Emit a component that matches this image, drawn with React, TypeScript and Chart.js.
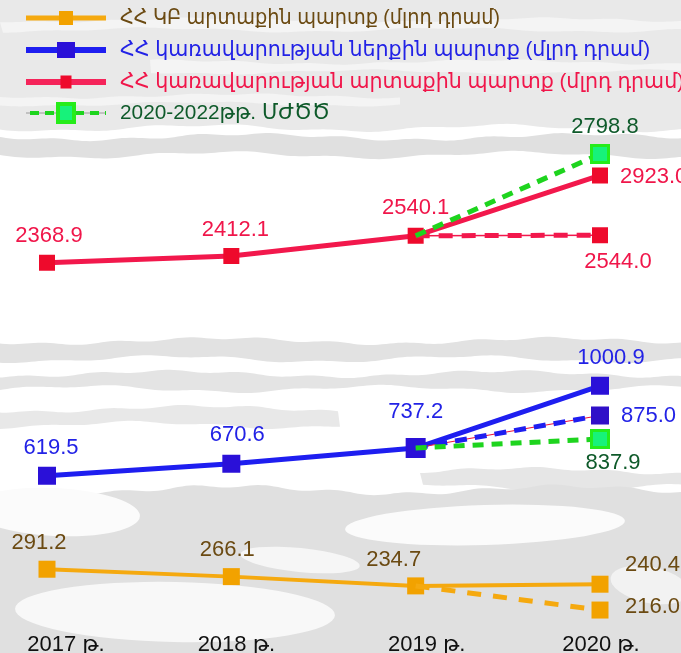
import React, { useEffect, useRef } from "react";
import { Chart, registerables } from "chart.js";
Chart.register(...registerables);

const years = ["2017 թ.", "2018 թ.", "2019 թ.", "2020 թ."];
const cbExternal = [291.2, 266.1, 234.7, 240.4];
const cbExternalPlan = [null, null, 234.7, 216.0];
const govDomestic = [619.5, 670.6, 737.2, 1000.9];
const govDomesticPlan = [null, null, 737.2, 875.0];
const govExternal = [2368.9, 2412.1, 2540.1, 2923.0];
const govExternalPlan = [null, null, 2540.1, 2544.0];
const mtefExternal = [null, null, 2540.1, 2798.8];
const mtefDomestic = [null, null, 737.2, 837.9];

const legendLabels = [
  "ՀՀ ԿԲ արտաքին պարտք (մլրդ դրամ)",
  "ՀՀ կառավարության ներքին պարտք (մլրդ դրամ)",
  "ՀՀ կառավարության արտաքին պարտք (մլրդ դրամ)",
  "2020-2022թթ. ՄԺԾԾ",
];

const FONT = '"Liberation Sans", Arial, "DejaVu Sans", sans-serif';
const C = {
  orangeLine: "#F5A90F", orangeMark: "#F2A200", orangeText: "#6B4A12",
  blueLine: "#1E1EF0", blueMark: "#2A10D8", blueText: "#2222E6",
  redLine: "#F2184C", redMark: "#EE0A2C", redText: "#F0164A",
  greenLine: "#1ED41E", greenFill: "#17F27A", greenBorder: "#26EC1A", greenText: "#0E5A2A",
};
const xLabelNudge = [19, 5, 11, 1];

function band(ctx: CanvasRenderingContext2D, x0: number, x1: number, yt: number, yb: number, amp: number, ph: number, color: string) {
  ctx.fillStyle = color;
  ctx.beginPath();
  for (let x = x0; x <= x1; x += 4) {
    const y = yt + amp * Math.sin((x + ph) / 53) + amp * 0.4 * Math.sin((x * 2.7 + ph) / 31);
    if (x === x0) ctx.moveTo(x, y); else ctx.lineTo(x, y);
  }
  for (let x = x1; x >= x0; x -= 4) {
    const y = yb + amp * Math.sin((x + ph * 1.7) / 47) + amp * 0.4 * Math.sin((x * 1.9 + ph) / 27);
    ctx.lineTo(x, y);
  }
  ctx.closePath();
  ctx.fill();
}

function blob(ctx: CanvasRenderingContext2D, cx: number, cy: number, rx: number, ry: number, rot: number, color: string) {
  ctx.fillStyle = color;
  ctx.beginPath();
  ctx.ellipse(cx, cy, rx, ry, rot, 0, Math.PI * 2);
  ctx.fill();
}

const bgPlugin = {
  id: "bg",
  beforeDraw(chart: any) {
    const ctx = chart.ctx as CanvasRenderingContext2D;
    const w = chart.width, h = chart.height;
    ctx.save();
    ctx.fillStyle = "#ffffff";
    ctx.fillRect(0, 0, w, h);
    band(ctx, -10, w + 10, -10, 128, 3, 10, "#e9e9e9");
    band(ctx, 0, w + 10, 20, 30, 2, 40, "#f4f4f4");
    band(ctx, 150, w + 10, 62, 72, 2, 90, "#f4f4f4");
    band(ctx, 0, 400, 96, 104, 2, 15, "#f4f4f4");
    band(ctx, -10, w + 10, 137, 155, 3, 0, "#e0e0e0");
    band(ctx, -10, w + 10, 341, 359, 3, 30, "#e2e2e2");
    band(ctx, -10, w + 10, 374, 389, 3, 80, "#e4e4e4");
    band(ctx, -10, 340, 409, 425, 3, 50, "#e8e8e8");
    band(ctx, 420, w + 10, 471, 487, 3, 60, "#e6e6e6");
    band(ctx, -10, w + 10, 490, h + 10, 4, 20, "#e0e0e0");
    blob(ctx, 55, 512, 85, 24, 0.05, "#fbfbfb");
    blob(ctx, 485, 525, 140, 20, -0.03, "#fbfbfb");
    blob(ctx, 175, 612, 160, 30, 0.02, "#f8f8f8");
    blob(ctx, 300, 560, 60, 12, 0.1, "#f6f6f6");
    blob(ctx, 650, 585, 40, 18, 0.2, "#f2f2f2");
    ctx.restore();
  },
};

const labelPlugin = {
  id: "dl",
  afterDatasetsDraw(chart: any) {
    const ctx = chart.ctx as CanvasRenderingContext2D;
    ctx.save();
    ctx.font = `22px ${FONT}`;
    ctx.textBaseline = "middle";
    chart.data.datasets.forEach((ds: any, i: number) => {
      if (!ds.dl) return;
      const meta = chart.getDatasetMeta(i);
      ds.dl.pos.forEach((p: any, j: number) => {
        if (!p) return;
        const v = ds.data[j];
        if (v == null) return;
        const pt = meta.data[j];
        ctx.fillStyle = ds.dl.color;
        ctx.textAlign = p.align || "center";
        ctx.fillText(Number(v).toFixed(1), pt.x + p.dx, pt.y + p.dy);
      });
    });
    ctx.restore();
  },
};

const legendPlugin = {
  id: "customLegend",
  afterDraw(chart: any) {
    const ctx = chart.ctx as CanvasRenderingContext2D;
    const xs = chart.scales.x;
    ctx.save();
    ctx.font = `22px ${FONT}`;
    ctx.fillStyle = "#111111";
    ctx.textAlign = "center";
    ctx.textBaseline = "alphabetic";
    years.forEach((y, i) => ctx.fillText(y, xs.getPixelForValue(i) + xLabelNudge[i], 651));

    ctx.font = `21px ${FONT}`;
    const k2 = 530 / ctx.measureText(legendLabels[1]).width;
    const widths = [380, 530, 0, 210];
    const rows = [
      { y: 18, line: C.orangeLine, lw: 5, mark: C.orangeMark, mw: 14, mh: 14, text: C.orangeText },
      { y: 50, line: C.blueLine, lw: 6, mark: C.blueMark, mw: 18, mh: 16, text: C.blueText },
      { y: 82, line: "#F5245A", lw: 6, mark: C.redMark, mw: 11, mh: 13, text: C.redText },
      { y: 113, line: null, lw: 4, mark: null, mw: 20, mh: 22, text: C.greenText },
    ];
    rows.forEach((r, i) => {
      if (r.line) {
        ctx.strokeStyle = r.line;
        ctx.lineWidth = r.lw;
        ctx.setLineDash([]);
        ctx.beginPath(); ctx.moveTo(26, r.y); ctx.lineTo(106, r.y); ctx.stroke();
        ctx.fillStyle = r.mark as string;
        ctx.fillRect(66 - r.mw / 2, r.y - r.mh / 2, r.mw, r.mh);
      } else {
        ctx.strokeStyle = "#9a9a9a"; ctx.lineWidth = 1; ctx.setLineDash([]);
        ctx.beginPath(); ctx.moveTo(26, r.y); ctx.lineTo(106, r.y); ctx.stroke();
        ctx.strokeStyle = C.greenLine; ctx.lineWidth = 4; ctx.setLineDash([9, 6]);
        ctx.beginPath(); ctx.moveTo(30, r.y); ctx.lineTo(106, r.y); ctx.stroke();
        ctx.setLineDash([]);
        ctx.fillStyle = C.greenBorder;
        ctx.fillRect(66 - r.mw / 2, r.y - r.mh / 2, r.mw, r.mh);
        ctx.fillStyle = C.greenFill;
        ctx.fillRect(66 - r.mw / 2 + 4, r.y - r.mh / 2 + 4, r.mw - 8, r.mh - 8);
      }
      const k = widths[i] ? widths[i] / ctx.measureText(legendLabels[i]).width : k2;
      ctx.save();
      ctx.translate(120, r.y);
      ctx.scale(k, 1);
      ctx.fillStyle = r.text;
      ctx.textAlign = "left";
      ctx.textBaseline = "middle";
      ctx.fillText(legendLabels[i], 0, 0);
      ctx.restore();
    });
    ctx.restore();
  },
};

export default function App() {
  const ref = useRef<HTMLCanvasElement | null>(null);
  useEffect(() => {
    document.body.style.margin = "0";
    document.body.style.overflow = "hidden";
    const canvas = ref.current!;
    const rect = (side: number) => side / Math.SQRT2;
    const chart = new Chart(canvas, {
      type: "line",
      data: {
        labels: years,
        datasets: [
          {
            data: mtefExternal, yAxisID: "yG1", borderColor: C.greenLine, borderWidth: 5, borderDash: [11, 8],
            pointStyle: "rect", pointRadius: [0, 0, 0, rect(17)], backgroundColor: C.greenFill,
            pointBorderColor: C.greenBorder, pointBorderWidth: 3,
            dl: { color: C.greenText, pos: [null, null, null, { dx: 5, dy: -27 }] },
          } as any,
          {
            data: mtefDomestic, yAxisID: "yG2", borderColor: C.greenLine, borderWidth: 5, borderDash: [11, 8],
            pointStyle: "rect", pointRadius: [0, 0, 0, rect(17)], backgroundColor: C.greenFill,
            pointBorderColor: C.greenBorder, pointBorderWidth: 3,
            dl: { color: C.greenText, pos: [null, null, null, { dx: 13, dy: 24 }] },
          },
          {
            data: govExternalPlan, yAxisID: "yR", borderColor: C.redLine, borderWidth: 5, borderDash: [14, 9],
            pointStyle: "rect", pointRadius: [0, 0, 0, rect(16)], backgroundColor: C.redMark, pointBorderWidth: 0,
            dl: { color: C.redText, pos: [null, null, null, { dx: 18, dy: 27 }] },
          },
          {
            data: govExternalPlan, yAxisID: "yR", borderColor: C.redLine, borderWidth: 1.5, pointRadius: 0,
          },
          {
            data: govDomesticPlan, yAxisID: "yB", borderColor: C.blueLine, borderWidth: 5, borderDash: [12, 8],
            pointStyle: "rect", pointRadius: [0, 0, 0, rect(18)], backgroundColor: "#3010C8", pointBorderWidth: 0,
            dl: { color: C.blueText, pos: [null, null, null, { dx: 21, dy: 0, align: "left" }] },
          },
          {
            data: govDomesticPlan, yAxisID: "yB", borderColor: "#F0143C", borderWidth: 1.2, pointRadius: 0,
          },
          {
            data: cbExternalPlan, yAxisID: "yO2", borderColor: C.orangeLine, borderWidth: 5, borderDash: [14, 12],
            pointStyle: "rect", pointRadius: [0, 0, 0, rect(17)], backgroundColor: C.orangeMark, pointBorderWidth: 0,
            dl: { color: C.orangeText, pos: [null, null, null, { dx: 25, dy: -3, align: "left" }] },
          },
          {
            data: govExternal, yAxisID: "yR", borderColor: C.redLine, borderWidth: 5,
            pointStyle: "rect", pointRadius: rect(16), backgroundColor: C.redMark, pointBorderWidth: 0,
            dl: {
              color: C.redText,
              pos: [{ dx: 2, dy: -27 }, { dx: 4, dy: -26 }, { dx: 0, dy: -28 }, { dx: 20, dy: 2, align: "left" }],
            },
          },
          {
            data: govDomestic, yAxisID: "yB", borderColor: C.blueLine, borderWidth: 5,
            pointStyle: "rect", pointRadius: [rect(18), rect(18), rect(20), rect(18)], backgroundColor: C.blueMark, pointBorderWidth: 0,
            dl: {
              color: C.blueText,
              pos: [{ dx: 4, dy: -28 }, { dx: 6, dy: -29 }, { dx: 0, dy: -36 }, { dx: 11, dy: -28 }],
            },
          },
          {
            data: cbExternal, yAxisID: "yO", borderColor: C.orangeLine, borderWidth: 4,
            pointStyle: "rect", pointRadius: rect(17), backgroundColor: C.orangeMark, pointBorderWidth: 0,
            dl: {
              color: C.orangeText,
              pos: [{ dx: -8, dy: -26 }, { dx: -4, dy: -27 }, { dx: -22, dy: -26 }, { dx: 25, dy: -19, align: "left" }],
            },
          },
        ],
      },
      options: {
        animation: false,
        responsive: false,
        layout: { autoPadding: false, padding: { left: 47, right: 81, top: 0, bottom: 0 } },
        plugins: { legend: { display: false }, tooltip: { enabled: false }, title: { display: false } },
        events: [],
        scales: {
          x: { type: "category", offset: false, display: false },
          yR: { type: "linear", display: false, min: -103.7, max: 4034.4 },
          yG1: { type: "linear", display: false, min: 1220.7, max: 3285.8 },
          yB: { type: "linear", display: false, min: -131.4, max: 2635.5 },
          yG2: { type: "linear", display: false, min: -1556, max: 5748 },
          yO: { type: "linear", display: false, min: 7.2, max: 2220.8 },
          yO2: { type: "linear", display: false, min: 182.7, max: 688.9 },
        },
      },
      plugins: [bgPlugin, labelPlugin, legendPlugin],
    } as any);
    return () => chart.destroy();
  }, []);
  return (
    <div style={{ position: "absolute", left: 0, top: 0, width: 681, height: 653 }}>
      <canvas ref={ref} width={681} height={653} style={{ display: "block" }} />
    </div>
  );
}
